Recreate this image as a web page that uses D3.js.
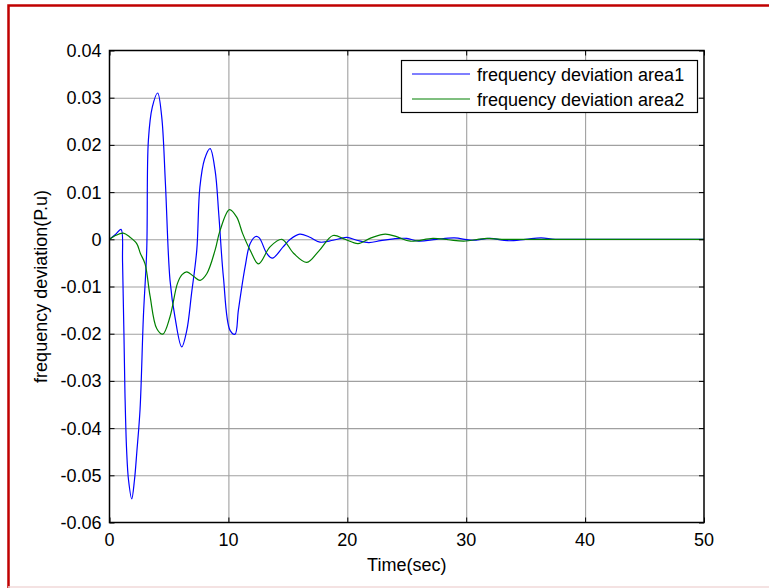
<!DOCTYPE html>
<html>
<head>
<meta charset="utf-8">
<script src="https://cdn.jsdelivr.net/npm/d3@7"></script>
<style>
  body { margin: 0; background: #fff; }
  svg { display: block; font-family: "Liberation Sans", Arial, sans-serif; }
  .grid line { stroke: #a0a0a0; stroke-width: 1.1; }
  .grid path { display: none; }
  .tickax path { display: none; }
  .tickax line { stroke: #000; }
  .lbl { font-size: 18px; fill: #000; }
</style>
</head>
<body>
<svg width="769" height="588"></svg>
<script>
// time (sec) and frequency deviation (P.u)
const tArea1 = [0, 0.5, 0.97, 1.1, 1.3, 1.44, 1.6, 1.87, 2.1, 2.3, 2.57, 2.85, 3.13, 3.27, 3.6, 4.05, 4.39, 4.7, 5.09, 5.5, 6.07, 6.5, 6.9, 7.34, 7.6, 8.0, 8.46, 8.88, 9.2, 9.58, 10.14, 10.56, 10.84, 11.4, 11.83, 12.3, 12.6, 13.23, 13.7, 14.6, 15.2, 16.0, 16.8, 17.7, 18.8, 19.96, 20.8, 21.8, 22.8, 23.9, 25, 26, 27.5, 29, 30.5, 32, 33.5, 35, 36.3, 37.5, 40, 50];
const vArea1 = [0, 0.001, 0.0021, -0.005, -0.0326, -0.0447, -0.051, -0.055, -0.051, -0.045, -0.036, -0.0164, -0.0023, 0.021, 0.028, 0.031, 0.026, 0.012, -0.0087, -0.0164, -0.0228, -0.0193, -0.0115, -0.0023, 0.011, 0.017, 0.0192, 0.0146, 0.005, -0.008, -0.0193, -0.0201, -0.015, -0.0059, -0.0009, 0.0006, 0.0003, -0.003, -0.004, -0.0016, 0, 0.0011, 0.0005, -0.0006, -0.0002, 0.0004, -0.0002, -0.0007, -0.0003, 0.0001, 0.0002, -0.0004, 0, 0.0003, -0.0002, 0.0002, -0.0003, 0, 0.0003, 0, 0, 0];

const tArea2 = [0, 0.5, 1.16, 1.7, 2.29, 2.6, 2.99, 3.41, 3.97, 4.48, 5.09, 5.71, 6.1, 6.5, 7.1, 7.62, 8.18, 8.88, 9.3, 10.09, 10.7, 11.2, 11.83, 12.53, 13.5, 14.5, 15.5, 16.6, 17.6, 18.8, 19.8, 20.9, 22, 23.2, 24.2, 25.3, 27.2, 28.5, 29.8, 31.7, 33, 35, 50];
const vArea2 = [0, 0.0008, 0.0013, 0.0005, -0.0009, -0.003, -0.0052, -0.012, -0.0189, -0.0201, -0.0164, -0.0094, -0.0075, -0.0069, -0.0079, -0.0087, -0.0073, -0.0023, 0.0019, 0.0063, 0.0047, 0.0012, -0.0023, -0.0052, -0.0016, 0, -0.003, -0.0049, -0.0025, 0.0008, 0, -0.0009, 0.0003, 0.0011, 0.0005, -0.0004, 0.0002, -0.0001, -0.0004, 0.0002, 0, 0, 0];

const xTicks = [0, 10, 20, 30, 40, 50];
const yTicks = [0.04, 0.03, 0.02, 0.01, 0, -0.01, -0.02, -0.03, -0.04, -0.05, -0.06];
const yTickLabels = ["0.04", "0.03", "0.02", "0.01", "0", "-0.01", "-0.02", "-0.03", "-0.04", "-0.05", "-0.06"];
const seriesNames = ["frequency deviation area1", "frequency deviation area2"];
const seriesColors = ["#0000ff", "#008000"];

const svg = d3.select("svg");
const L = 109.5, R = 704, T = 50.5, B = 522.5;
const x = d3.scaleLinear().domain([0, 50]).range([L, R]);
const y = d3.scaleLinear().domain([-0.06, 0.04]).range([B, T]);

// red frame
svg.append("rect")
  .attr("x", 8.5).attr("y", 5.5).attr("width", 800).attr("height", 600)
  .attr("fill", "#fff").attr("stroke", "#c00000").attr("stroke-width", 2.5);
svg.append("line")
  .attr("x1", 8).attr("x2", 769).attr("y1", 587).attr("y2", 587)
  .attr("stroke", "#f0d8d8").attr("stroke-width", 1.5);

// grid
svg.append("g").attr("class", "grid")
  .attr("transform", `translate(0,${B})`)
  .call(d3.axisBottom(x).tickValues(xTicks.slice(1, -1)).tickSize(-(B - T)).tickFormat(""));
svg.append("g").attr("class", "grid")
  .attr("transform", `translate(${L},0)`)
  .call(d3.axisLeft(y).tickValues(yTicks.slice(1, -1)).tickSize(-(R - L)).tickFormat(""));

// series
const line = d3.line()
  .curve(d3.curveCatmullRom.alpha(0.5))
  .x(d => x(d[0])).y(d => y(d[1]));
const series = [d3.zip(tArea1, vArea1), d3.zip(tArea2, vArea2)];
series.forEach((s, i) => {
  svg.append("path")
    .datum(s)
    .attr("fill", "none")
    .attr("stroke", seriesColors[i])
    .attr("stroke-width", 1.2)
    .attr("stroke-linejoin", "round")
    .attr("d", line);
});

// inward ticks on all four sides
svg.append("g").attr("class", "tickax").attr("transform", `translate(0,${B})`)
  .call(d3.axisBottom(x).tickValues(xTicks).tickSize(-5).tickFormat(""));
svg.append("g").attr("class", "tickax").attr("transform", `translate(0,${T})`)
  .call(d3.axisTop(x).tickValues(xTicks).tickSize(-5).tickFormat(""));
svg.append("g").attr("class", "tickax").attr("transform", `translate(${L},0)`)
  .call(d3.axisLeft(y).tickValues(yTicks).tickSize(-5).tickFormat(""));
svg.append("g").attr("class", "tickax").attr("transform", `translate(${R},0)`)
  .call(d3.axisRight(y).tickValues(yTicks).tickSize(-5).tickFormat(""));

// box
svg.append("rect")
  .attr("x", L).attr("y", T).attr("width", R - L).attr("height", B - T)
  .attr("fill", "none").attr("stroke", "#000").attr("stroke-width", 1.5);

// tick labels
svg.selectAll(".xt").data(xTicks).enter().append("text")
  .attr("class", "lbl").attr("x", d => x(d)).attr("y", B + 23)
  .attr("text-anchor", "middle").text(d => d);
svg.selectAll(".yt").data(yTicks).enter().append("text")
  .attr("class", "lbl").attr("x", L - 8).attr("y", d => y(d) + 6.5)
  .attr("text-anchor", "end").text((d, i) => yTickLabels[i]);

// axis titles
svg.append("text").attr("class", "lbl")
  .attr("x", (L + R) / 2).attr("y", 571)
  .attr("text-anchor", "middle").text("Time(sec)");
svg.append("text").attr("class", "lbl")
  .attr("transform", `translate(47,${(T + B) / 2}) rotate(-90)`)
  .attr("text-anchor", "middle").text("frequency deviation(P.u)");

// legend
const lg = svg.append("g");
lg.append("rect")
  .attr("x", 401.5).attr("y", 60.5).attr("width", 296).attr("height", 52)
  .attr("fill", "#fff").attr("stroke", "#000").attr("stroke-width", 1.2);
seriesNames.forEach((name, i) => {
  const yy = 74 + i * 25;
  lg.append("line").attr("x1", 412).attr("x2", 470).attr("y1", yy).attr("y2", yy)
    .attr("stroke", seriesColors[i]).attr("stroke-width", 1.2);
  lg.append("text").attr("class", "lbl").attr("x", 477).attr("y", yy + 6.5).text(name);
});
</script>
</body>
</html>
